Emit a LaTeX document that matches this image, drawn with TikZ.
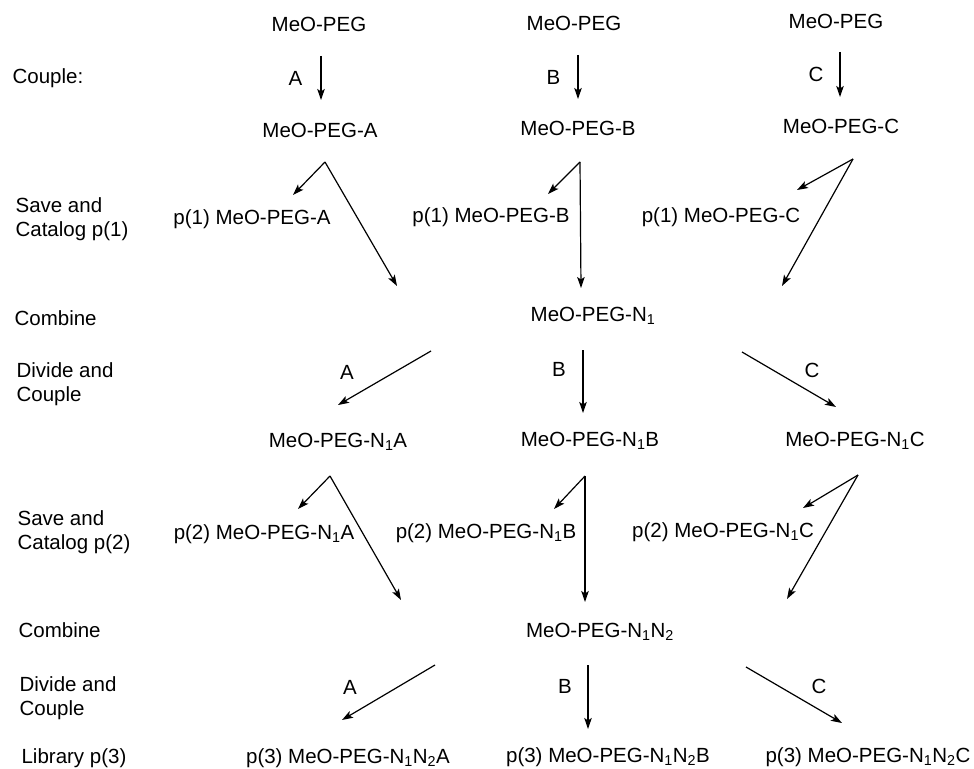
\documentclass[tikz,border=0pt]{standalone}
\usepackage{fontspec}
\setmainfont{Liberation Sans}
\usetikzlibrary{arrows.meta}

\newcommand{\ix}[1]{\textsubscript{#1}}

\begin{document}
\begin{tikzpicture}[x=1pt, y=-1pt, line width=1.2pt,
    >={Stealth[length=11pt, width=7.5pt, inset=2.5pt]},
    every node/.style={inner sep=0pt, font=\fontsize{20.5}{24}\selectfont},
    stage/.style={anchor=west, align=left}]
    \useasboundingbox (0,0) rectangle (974,768);

    % steps on the left
    \node[stage] (s1) at (12,78) {Couple:};
    \node[stage] (s2) at (15,219) {Save and\\Catalog p(1)};
    \node[stage] (s3) at (14,318) {Combine};
    \node[stage] (s4) at (16,384) {Divide and\\Couple};
    \node[stage] (s5) at (17,532) {Save and\\Catalog p(2)};
    \node[stage] (s6) at (18,630) {Combine};
    \node[stage] (s7) at (19,698) {Divide and\\Couple};
    \node[stage] (s8) at (21,758) {Library p(3)};

    % first round
    \node (pa) at (319,24) {MeO-PEG};
    \node (pb) at (574,23) {MeO-PEG};
    \node (pc) at (836,21) {MeO-PEG};
    \node (ma) at (320,130) {MeO-PEG-A};
    \node (mb) at (578,128) {MeO-PEG-B};
    \node (mc) at (841,126) {MeO-PEG-C};
    \node (qa) at (252,219) {p(1) MeO-PEG-A};
    \node (qb) at (491,217) {p(1) MeO-PEG-B};
    \node (qc) at (721,217) {p(1) MeO-PEG-C};
    \node (n1) at (593,316) {MeO-PEG-N\ix{1}};

    \coordinate (ca0) at (321,56);  \coordinate (ca1) at (321,100);
    \coordinate (cb0) at (578,55);  \coordinate (cb1) at (578,99);
    \coordinate (cc0) at (840,52);  \coordinate (cc1) at (840,97);
    \draw[->] (ca0) -- (ca1) node[midway, left=18pt] (la) {A};
    \draw[->] (cb0) -- (cb1) node[midway, left=17pt] (lb) {B};
    \draw[->] (cc0) -- (cc1) node[midway, left=16pt] (lc) {C};

    \coordinate (fa) at (325,162);
    \coordinate (fb) at (580,162);
    \coordinate (fc) at (853,159);
    \draw[->] (fa) -- (293,195);
    \draw[->] (fa) -- (397,286);
    \draw[->] (fb) -- (548,194);
    \draw[->] (fb) -- (581,288);
    \draw[->] (fc) -- (797,190);
    \draw[->] (fc) -- (782,286);

    % second round
    \coordinate (da0) at (431,351); \coordinate (da1) at (338,405);
    \coordinate (db0) at (583,350); \coordinate (db1) at (583,413);
    \coordinate (dc0) at (742,352); \coordinate (dc1) at (836,407);
    \draw[->] (da0) -- (da1);
    \draw[->] (db0) -- (db1);
    \draw[->] (dc0) -- (dc1);
    \node (ra) at (347,372) {A};
    \node (rb) at (559,369) {B};
    \node (rc) at (812,370) {C};

    \node (na) at (338,442) {MeO-PEG-N\ix{1}A};
    \node (nb) at (590,441) {MeO-PEG-N\ix{1}B};
    \node (nc) at (855,441) {MeO-PEG-N\ix{1}C};
    \node (ua) at (264,534) {p(2) MeO-PEG-N\ix{1}A};
    \node (ub) at (486,533) {p(2) MeO-PEG-N\ix{1}B};
    \node (uc) at (723,532) {p(2) MeO-PEG-N\ix{1}C};
    \node (n2) at (600,632) {MeO-PEG-N\ix{1}N\ix{2}};

    \coordinate (ga) at (330,476);
    \coordinate (gb) at (585,476);
    \coordinate (gc) at (858,475);
    \draw[->] (ga) -- (298,509);
    \draw[->] (ga) -- (401,600);
    \draw[->] (gb) -- (554,509);
    \draw[->] (gb) -- (585,602);
    \draw[->] (gc) -- (803,508);
    \draw[->] (gc) -- (787,599);

    % third round
    \coordinate (ea0) at (435,665); \coordinate (ea1) at (342,720);
    \coordinate (eb0) at (588,665); \coordinate (eb1) at (588,729);
    \coordinate (ec0) at (746,667); \coordinate (ec1) at (842,723);
    \draw[->] (ea0) -- (ea1);
    \draw[->] (eb0) -- (eb1);
    \draw[->] (ec0) -- (ec1);
    \node (ta) at (350,687) {A};
    \node (tb) at (565,686) {B};
    \node (tc) at (819,686) {C};

    \node (la3) at (348,758) {p(3) MeO-PEG-N\ix{1}N\ix{2}A};
    \node (lb3) at (608,757) {p(3) MeO-PEG-N\ix{1}N\ix{2}B};
    \node (lc3) at (868,757) {p(3) MeO-PEG-N\ix{1}N\ix{2}C};

\end{tikzpicture}
\end{document}
